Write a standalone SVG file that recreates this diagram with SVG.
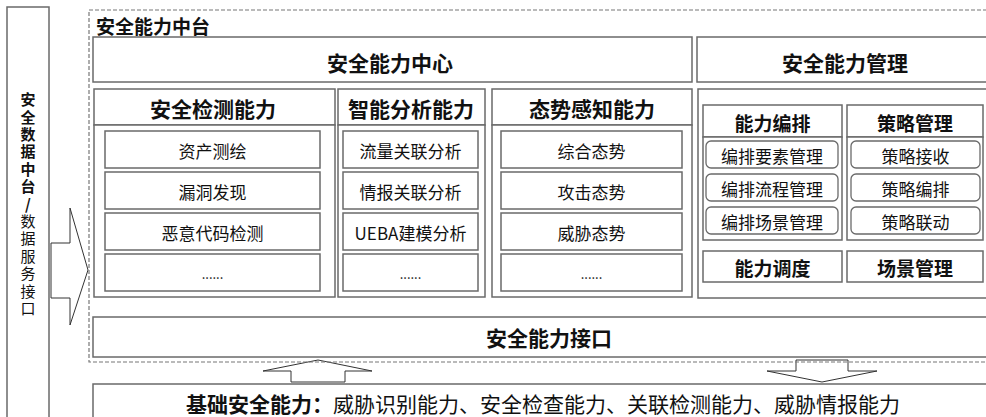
<svg xmlns="http://www.w3.org/2000/svg" width="986" height="417" viewBox="0 0 986 417">
<style>
  .box { fill: #fff; stroke: #6a6a6a; stroke-width: 1.5; }
  .rbox { fill: #fff; stroke: #6a6a6a; stroke-width: 1.3; }
  .dash { fill: none; stroke: #777; stroke-width: 1.2; stroke-dasharray: 4 2; }
  .arrow { fill: #fff; stroke: #333; stroke-width: 1; }
  text { font-family: "Microsoft YaHei", "Noto Sans CJK SC", "Noto Sans", sans-serif; fill: #111; dominant-baseline: central; text-anchor: middle; }
  .h1 { font-size: 21px; font-weight: bold; }
  .h2 { font-size: 19px; font-weight: bold; }
  .it { font-size: 17px; }
  .dots { font-size: 13px; }
  .vert { font-size: 15px; writing-mode: vertical-rl; text-orientation: upright; letter-spacing: 2.4px; text-anchor: start; }
</style>
<rect width="986" height="417" fill="#fff"/>

<g id="data-platform">
  <rect class="box" x="7" y="7" width="42" height="420"/>
  <text class="vert" x="28" y="92"><tspan font-weight="bold">安全数据中台/</tspan>数据服务接口</text>
</g>

<g id="connectors">
  <polygon class="arrow" points="51,243 70,243 70,208 88,270 70,325 70,298 51,298"/>
  <polygon class="arrow" points="291,382 345,382 345,371 372,371 318,360 263,371 291,371"/>
  <polygon class="arrow" points="796,360 848,360 848,371 877,371 822,382 767,371 796,371"/>
</g>

<g id="capability-platform">
  <rect class="dash" x="89" y="10" width="905" height="352"/>
  <text class="h2" x="96" y="25" style="text-anchor:start">安全能力中台</text>
</g>

<g id="capability-center">
  <rect class="box" x="93" y="37" width="599" height="45"/>
  <text class="h1" x="390" y="62">安全能力中心</text>
</g>

<g id="capability-management">
  <rect class="box" x="697" y="37" width="300" height="45"/>
  <text class="h1" x="845" y="62">安全能力管理</text>
</g>

<g id="detection">
  <rect class="box" x="94" y="89" width="241" height="36"/>
  <rect class="box" x="94" y="125" width="241" height="172"/>
  <text class="h1" x="213" y="108">安全检测能力</text>
  <rect class="box" x="105" y="131" width="215" height="37"/>
  <text class="it" x="212.5" y="150">资产测绘</text>
  <rect class="box" x="105" y="172" width="215" height="37"/>
  <text class="it" x="212.5" y="191">漏洞发现</text>
  <rect class="box" x="105" y="213" width="215" height="37"/>
  <text class="it" x="212.5" y="232">恶意代码检测</text>
  <rect class="box" x="105" y="254" width="215" height="37"/>
  <text class="dots" x="212.5" y="273">......</text>
</g>

<g id="analysis">
  <rect class="box" x="338" y="89" width="147" height="36"/>
  <rect class="box" x="338" y="125" width="147" height="172"/>
  <text class="h1" x="411" y="108">智能分析能力</text>
  <rect class="box" x="343" y="131" width="135" height="37"/>
  <text class="it" x="410.5" y="150">流量关联分析</text>
  <rect class="box" x="343" y="172" width="135" height="37"/>
  <text class="it" x="410.5" y="191">情报关联分析</text>
  <rect class="box" x="343" y="213" width="135" height="37"/>
  <text class="it" x="410.5" y="232">UEBA建模分析</text>
  <rect class="box" x="343" y="254" width="135" height="37"/>
  <text class="dots" x="410.5" y="273">......</text>
</g>

<g id="awareness">
  <rect class="box" x="492" y="89" width="200" height="36"/>
  <rect class="box" x="492" y="125" width="200" height="172"/>
  <text class="h1" x="592" y="108">态势感知能力</text>
  <rect class="box" x="501" y="131" width="181" height="37"/>
  <text class="it" x="591.5" y="150">综合态势</text>
  <rect class="box" x="501" y="172" width="181" height="37"/>
  <text class="it" x="591.5" y="191">攻击态势</text>
  <rect class="box" x="501" y="213" width="181" height="37"/>
  <text class="it" x="591.5" y="232">威胁态势</text>
  <rect class="box" x="501" y="254" width="181" height="37"/>
  <text class="dots" x="591.5" y="273">......</text>
</g>

<g id="management-body">
  <rect class="box" x="698" y="89" width="300" height="209"/>
</g>

<g id="orchestration">
  <rect class="box" x="703" y="105" width="139" height="32"/>
  <rect class="box" x="703" y="137" width="139" height="103"/>
  <text class="h2" x="772.5" y="122">能力编排</text>
  <rect class="rbox" x="706" y="141" width="132" height="27" rx="5"/>
  <text class="it" x="772" y="155">编排要素管理</text>
  <rect class="rbox" x="706" y="174" width="132" height="27" rx="5"/>
  <text class="it" x="772" y="188">编排流程管理</text>
  <rect class="rbox" x="706" y="207" width="132" height="27" rx="5"/>
  <text class="it" x="772" y="221">编排场景管理</text>
</g>

<g id="policy">
  <rect class="box" x="847" y="105" width="136" height="32"/>
  <rect class="box" x="847" y="137" width="136" height="103"/>
  <text class="h2" x="915" y="122">策略管理</text>
  <rect class="rbox" x="851" y="141" width="129" height="27" rx="5"/>
  <text class="it" x="915.5" y="155">策略接收</text>
  <rect class="rbox" x="851" y="174" width="129" height="27" rx="5"/>
  <text class="it" x="915.5" y="188">策略编排</text>
  <rect class="rbox" x="851" y="207" width="129" height="27" rx="5"/>
  <text class="it" x="915.5" y="221">策略联动</text>
</g>

<g id="scheduling">
  <rect class="box" x="703" y="251" width="139" height="31"/>
  <text class="h2" x="772.5" y="267">能力调度</text>
</g>

<g id="scenario">
  <rect class="box" x="847" y="251" width="136" height="31"/>
  <text class="h2" x="915" y="267">场景管理</text>
</g>

<g id="interface">
  <rect class="box" x="93" y="317" width="900" height="40"/>
  <text class="h1" x="549" y="337">安全能力接口</text>
</g>

<g id="basic">
  <rect class="box" x="93" y="384" width="900" height="45"/>
  <text x="543" y="403" style="font-size:21px"><tspan font-weight="bold">基础安全能力：</tspan>威胁识别能力、安全检查能力、关联检测能力、威胁情报能力</text>
</g>
</svg>
